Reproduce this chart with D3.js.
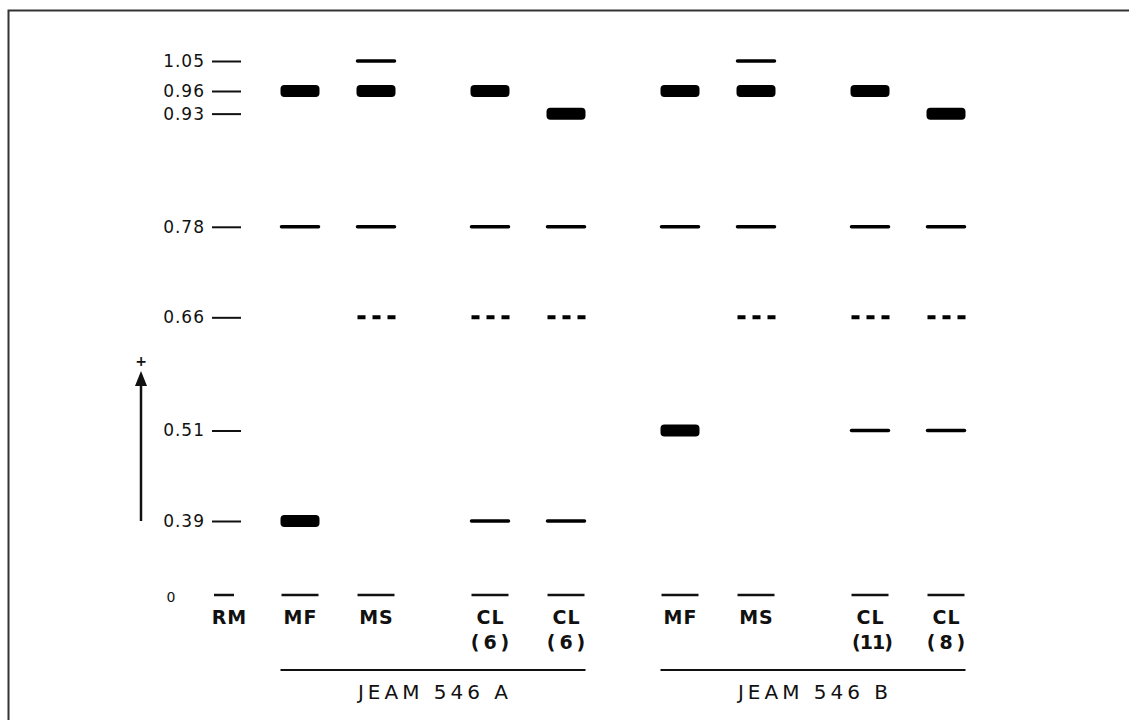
<!DOCTYPE html>
<meta charset="utf-8">
<style>
  body { margin: 0; background: #fff; }
  svg text { font-family: 'DejaVu Sans', 'Liberation Sans', sans-serif; fill: #111; }
  .tick-label { font-size: 17px; letter-spacing: 1px; }
  .lane-label { font-size: 19px; font-weight: bold; letter-spacing: 1px; }
  .group-label { font-size: 20px; letter-spacing: 4px; }
</style>
<script src="https://d3js.org/d3.v7.min.js"></script>
<div id="chart"></div>
<script>

// lanes of the gel, left to right
var lanes     = ["RM", "MF", "MS", "CL", "CL", "MF", "MS", "CL", "CL"];
var laneSub   = ["", "", "", "(6)", "(6)", "", "", "(11)", "(8)"];
var laneGroup = ["", "JEAM 546 A", "JEAM 546 A", "JEAM 546 A", "JEAM 546 A",
                 "JEAM 546 B", "JEAM 546 B", "JEAM 546 B", "JEAM 546 B"];
var groups = ["JEAM 546 A", "JEAM 546 B"];

// relative mobility marks on the left
var mobilityTicks = [1.05, 0.96, 0.93, 0.78, 0.66, 0.51, 0.39];

// bands seen in each lane: [relative mobility, kind]
var bandsRM    = [];
var bandsA_MF  = [[0.96, "thick"], [0.78, "thin"], [0.39, "thick"]];
var bandsA_MS  = [[1.05, "thin"], [0.96, "thick"], [0.78, "thin"], [0.66, "faint"]];
var bandsA_CL1 = [[0.96, "thick"], [0.78, "thin"], [0.66, "faint"], [0.39, "thin"]];
var bandsA_CL2 = [[0.93, "thick"], [0.78, "thin"], [0.66, "faint"], [0.39, "thin"]];
var bandsB_MF  = [[0.96, "thick"], [0.78, "thin"], [0.51, "thick"]];
var bandsB_MS  = [[1.05, "thin"], [0.96, "thick"], [0.78, "thin"], [0.66, "faint"]];
var bandsB_CL1 = [[0.96, "thick"], [0.78, "thin"], [0.66, "faint"], [0.51, "thin"]];
var bandsB_CL2 = [[0.93, "thick"], [0.78, "thin"], [0.66, "faint"], [0.51, "thin"]];
var laneBands = [bandsRM, bandsA_MF, bandsA_MS, bandsA_CL1, bandsA_CL2,
                 bandsB_MF, bandsB_MS, bandsB_CL1, bandsB_CL2];

var width = 1129, height = 720;

var svg = d3.select("#chart")
  .append("svg")
    .attr("width", width)
    .attr("height", height);

svg.append("rect").attr("width", width).attr("height", height).attr("fill", "#fff");

// frame (only top and left edges show in the scan)
svg.append("path")
  .attr("d", "M8.5," + height + "V10.5H" + width)
  .attr("fill", "none")
  .attr("stroke", "#333")
  .attr("stroke-width", 2);

// lane slots: extra half step before the CL lanes and between strains
var slots = [];
lanes.forEach(function (l, i) {
  if (i === 0) { slots.push(0); return; }
  var step = 1;
  if (l === "CL" && lanes[i - 1] !== "CL") step = 1.5;
  if (laneGroup[i - 1] !== "" && laneGroup[i] !== laneGroup[i - 1]) step = 1.5;
  slots.push(slots[i - 1] + step);
});

var x = d3.scaleLinear()
  .domain([0, d3.max(slots)])
  .range([224, 946]);

// the scale is not linear over the whole gel (drawn schematically)
var y = d3.scaleLinear()
  .domain([0, 0.39, 0.96, 1.05])
  .range([596, 521, 91, 61]);

var bandW = 37;

// left axis
var axis = svg.append("g")
  .attr("transform", "translate(241,0)")
  .call(d3.axisLeft(y)
    .tickValues(mobilityTicks)
    .tickSize(29)
    .tickPadding(7)
    .tickFormat(d3.format(".2f")));
axis.select(".domain").remove();
axis.selectAll(".tick line").attr("stroke", "#111").attr("stroke-width", 2);
axis.selectAll(".tick text")
  .attr("class", "tick-label")
  .attr("fill", "#111");

// origin
svg.append("text")
  .attr("x", 171)
  .attr("y", y(0) + 6)
  .attr("text-anchor", "middle")
  .style("font-size", "14px")
  .text("0");

// direction arrow
svg.append("line")
  .attr("x1", 141).attr("x2", 141)
  .attr("y1", y(0.39)).attr("y2", 384)
  .attr("stroke", "#111").attr("stroke-width", 2.5);
svg.append("path")
  .attr("d", "M141,371L135,386L147,386Z")
  .attr("fill", "#111");
svg.append("text")
  .attr("x", 141)
  .attr("y", 366)
  .attr("text-anchor", "middle")
  .style("font-size", "14px")
  .style("font-weight", "bold")
  .text("+");

// lanes
var lane = svg.selectAll(".lane")
  .data(lanes)
  .enter()
  .append("g")
    .attr("class", "lane")
    .attr("transform", function (d, i) { return "translate(" + x(slots[i]) + ",0)"; });

// origin marks
lane.append("line")
  .attr("x1", function (d) { return d === "RM" ? -10 : -bandW / 2; })
  .attr("x2", function (d) { return d === "RM" ? 10 : bandW / 2; })
  .attr("y1", y(0) - 1).attr("y2", y(0) - 1)
  .attr("stroke", "#111")
  .attr("stroke-width", 2.5);

lane.append("text")
  .attr("class", "lane-label")
  .attr("y", 624)
  .attr("text-anchor", "middle")
  .attr("dx", function (d) { return d === "RM" ? 5.5 : 0.5; })
  .text(function (d) { return d; });

lane.append("text")
  .attr("class", "lane-label")
  .attr("y", 649)
  .attr("text-anchor", "middle")
  .attr("dx", 2)
  .style("letter-spacing", function (d, i) { return laneSub[i] === "(11)" ? "-1px" : "4px"; })
  .text(function (d, i) { return laneSub[i]; });

// bands
lane.each(function (d, i) {
  var g = d3.select(this);
  var bands = laneBands[i];

  g.selectAll(".thick")
    .data(bands.filter(function (b) { return b[1] === "thick"; }))
    .enter()
    .append("rect")
      .attr("x", -bandW / 2 - 1)
      .attr("y", function (b) { return y(b[0]) - 6; })
      .attr("width", bandW + 2)
      .attr("height", 12)
      .attr("rx", 4)
      .attr("fill", "#000");

  g.selectAll(".thin")
    .data(bands.filter(function (b) { return b[1] === "thin"; }))
    .enter()
    .append("line")
      .attr("x1", -bandW / 2)
      .attr("x2", bandW / 2)
      .attr("y1", function (b) { return y(b[0]); })
      .attr("y2", function (b) { return y(b[0]); })
      .attr("stroke", "#000")
      .attr("stroke-width", 3.5)
      .attr("stroke-linecap", "round");

  g.selectAll(".faint")
    .data(bands.filter(function (b) { return b[1] === "faint"; }))
    .enter()
    .append("line")
      .attr("x1", -bandW / 2)
      .attr("x2", bandW / 2 + 1)
      .attr("y1", function (b) { return y(b[0]); })
      .attr("y2", function (b) { return y(b[0]); })
      .attr("stroke", "#000")
      .attr("stroke-width", 4)
      .attr("stroke-dasharray", "8,7");
});

// strain brackets
groups.forEach(function (grp) {
  var idx = laneGroup.map(function (g, i) { return g === grp ? i : -1; })
                     .filter(function (i) { return i >= 0; });
  var x0 = x(slots[idx[0]]) - bandW / 2 - 1,
      x1 = x(slots[idx[idx.length - 1]]) + bandW / 2 + 1;

  svg.append("line")
    .attr("x1", x0).attr("x2", x1)
    .attr("y1", 670).attr("y2", 670)
    .attr("stroke", "#111")
    .attr("stroke-width", 2);

  svg.append("text")
    .attr("class", "group-label")
    .attr("x", (x0 + x1) / 2 + 2)
    .attr("y", 699)
    .attr("text-anchor", "middle")
    .text(grp);
});

</script>
